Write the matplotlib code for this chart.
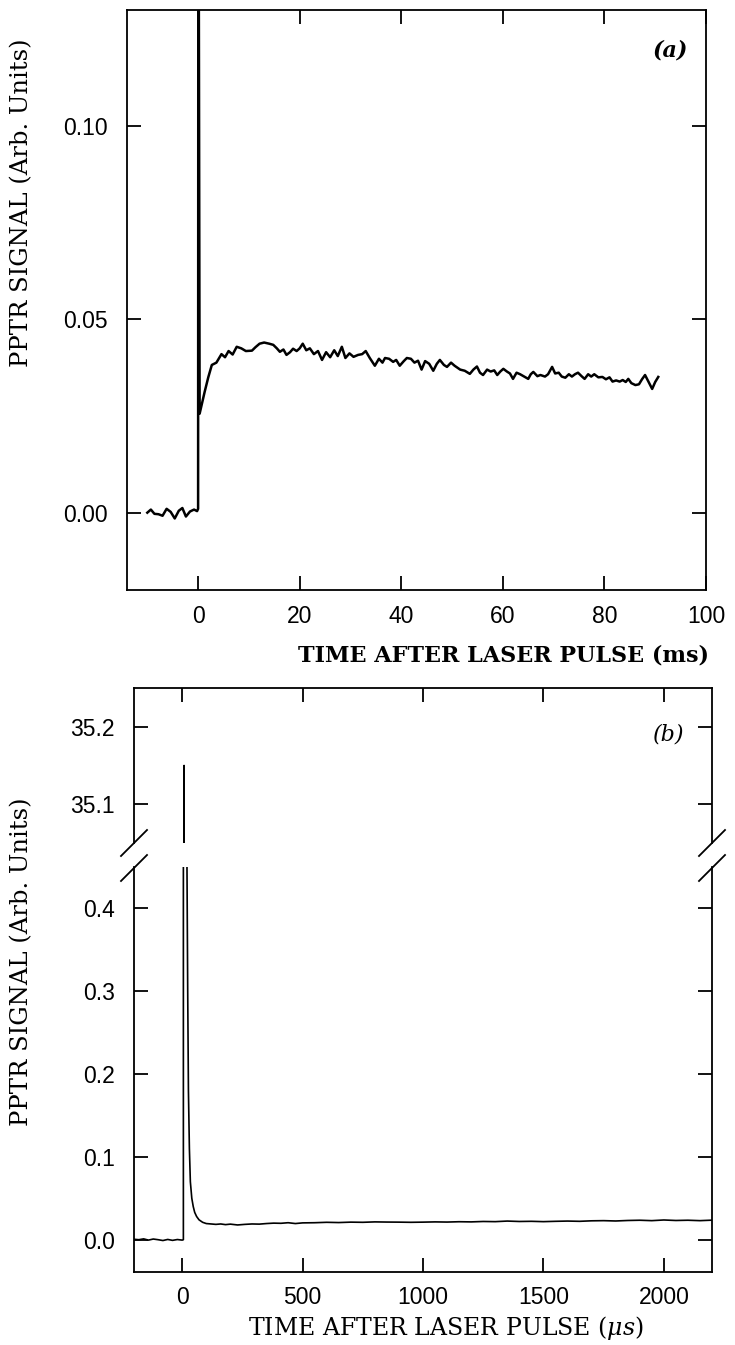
import matplotlib
matplotlib.use("Agg")
import matplotlib.pyplot as plt
from matplotlib.lines import Line2D

plt.rcParams['mathtext.fontset'] = 'dejavuserif'

# ---- panel (a): time in ms, signal ----
t_ms = [-10.0, -9.3, -8.6, -7.8, -7.0, -6.2, -5.4, -4.6, -3.8, -3.1, -2.4, -1.6, -0.8, -0.2, 0.0,
        0.05, 0.3, 1.3, 2.0, 2.7, 3.6, 4.6, 5.3, 6.0, 6.8, 7.6, 8.5, 9.4, 10.6, 11.3, 12.1,
        13.0, 14.0, 14.8, 15.5, 16.1, 16.8, 17.4, 18.1, 18.7, 19.4, 20.0, 20.6, 21.3, 22.0,
        22.8, 23.6, 24.4, 25.2, 26.0, 26.8, 27.5, 28.3, 29.0, 29.8, 30.6, 31.5, 32.3, 33.0,
        33.8, 34.8, 35.6, 36.3, 36.8, 37.6, 38.4, 39.0, 39.7, 40.5, 41.1, 41.9, 42.6, 43.3,
        44.0, 44.7, 45.5, 46.3, 47.0, 47.6, 48.4, 49.0, 49.8, 50.5, 51.6, 52.5, 53.5, 54.2,
        54.9, 55.5, 56.1, 56.9, 57.6, 58.3, 58.9, 59.5, 60.1, 60.8, 61.4, 62.0, 62.7, 63.4,
        64.2, 65.0, 65.5, 66.0, 66.8, 67.4, 68.3, 68.9, 69.7, 70.3, 71.0, 71.6, 72.3, 73.0,
        73.6, 74.2, 74.8, 75.5, 76.1, 76.8, 77.4, 78.0, 78.8, 79.6, 80.3, 81.0, 81.6, 82.3,
        83.0, 83.6, 84.2, 84.7, 85.3, 86.1, 86.8, 87.4, 88.0, 88.7, 89.4, 90.0, 90.6]
sig_a = [0.0000, 0.0008, -0.0003, -0.0004, -0.0008, 0.0010, 0.0002, -0.0015, 0.0005, 0.0012,
         -0.0010, 0.0003, 0.0008, 0.0004, 0.0010,
         0.2000, 0.0256, 0.0313, 0.0350, 0.0382, 0.0388, 0.0410, 0.0402, 0.0418, 0.0409,
         0.0429, 0.0425, 0.0418, 0.0419, 0.0428, 0.0437, 0.0440, 0.0437, 0.0434, 0.0425,
         0.0416, 0.0422, 0.0408, 0.0415, 0.0424, 0.0418, 0.0425, 0.0437, 0.0420, 0.0425,
         0.0410, 0.0418, 0.0395, 0.0415, 0.0402, 0.0420, 0.0405, 0.0429, 0.0400, 0.0412,
         0.0403, 0.0408, 0.0410, 0.0418, 0.0400, 0.0380, 0.0398, 0.0388, 0.0400, 0.0398,
         0.0390, 0.0395, 0.0380, 0.0392, 0.0400, 0.0398, 0.0388, 0.0393, 0.0370, 0.0392,
         0.0385, 0.0367, 0.0385, 0.0395, 0.0382, 0.0377, 0.0388, 0.0380, 0.0370, 0.0367,
         0.0359, 0.0370, 0.0378, 0.0362, 0.0356, 0.0370, 0.0365, 0.0368, 0.0356, 0.0365,
         0.0372, 0.0365, 0.0360, 0.0346, 0.0362, 0.0358, 0.0352, 0.0346, 0.0358, 0.0364,
         0.0353, 0.0356, 0.0352, 0.0358, 0.0377, 0.0360, 0.0362, 0.0352, 0.0349, 0.0358,
         0.0352, 0.0358, 0.0362, 0.0353, 0.0346, 0.0358, 0.0352, 0.0358, 0.0350, 0.0351,
         0.0345, 0.0350, 0.0339, 0.0342, 0.0339, 0.0343, 0.0338, 0.0346, 0.0335, 0.0330,
         0.0332, 0.0345, 0.0356, 0.0338, 0.0320, 0.0338, 0.0351]
xticks_a = [0, 20, 40, 60, 80, 100]
yticks_a = [0.00, 0.05, 0.10]

# ---- panel (b): time in us, signal (broken y axis) ----
t_us = [-200, -180, -160, -140, -120, -100, -80, -60, -40, -20, 0, 5, 8, 20, 23, 26, 30, 34,
        40, 46, 52, 60, 70, 85, 100, 120, 140, 160, 180, 200, 230, 260, 290, 320, 350,
        380, 410, 440, 470, 500, 550, 600, 650, 700, 750, 800, 850, 900, 950, 1000, 1050,
        1100, 1150, 1200, 1250, 1300, 1350, 1400, 1450, 1500, 1550, 1600, 1650, 1700, 1750,
        1800, 1850, 1900, 1950, 2000, 2050, 2100, 2150, 2200]
sig_b = [0.0005, 0.0, 0.001, -0.0005, 0.0008, 0.0, -0.001, 0.0003, -0.0008, 0.0002, -0.0005,
         0.0, 35.15, 0.45, 0.30, 0.18, 0.11, 0.07, 0.050, 0.040, 0.033, 0.028, 0.024,
         0.021, 0.0195, 0.019, 0.0185, 0.019, 0.0182, 0.0188, 0.0178, 0.0185, 0.0190, 0.0188,
         0.0195, 0.0200, 0.0198, 0.0205, 0.0195, 0.0203, 0.0205, 0.0210, 0.0207, 0.0212,
         0.0210, 0.0215, 0.0213, 0.0212, 0.0210, 0.0212, 0.0215, 0.0213, 0.0217, 0.0215,
         0.0220, 0.0218, 0.0225, 0.0220, 0.0222, 0.0218, 0.0222, 0.0225, 0.0222, 0.0228,
         0.0230, 0.0226, 0.0232, 0.0235, 0.0230, 0.0238, 0.0232, 0.0235, 0.0230, 0.0236]
xticks_b = [0, 500, 1000, 1500, 2000]
yticks_b_hi = [35.1, 35.2]
yticks_b_lo = [0.0, 0.1, 0.2, 0.3, 0.4]

W, H = 735, 1345
fig = plt.figure(figsize=(W / 100, H / 100), dpi=100)

SANS = 'Liberation Sans'
SERIF = 'DejaVu Serif'
TICKFS = 16.5


def px_box(x0, y0, x1, y1):
    # pixel box (top-left origin) -> figure fraction rect
    return [x0 / W, 1 - y1 / H, (x1 - x0) / W, (y1 - y0) / H]


def style(ax):
    for s in ax.spines.values():
        s.set_linewidth(1.3)
    ax.tick_params(direction='in', length=10, width=1.3, top=True, right=True,
                   labelsize=TICKFS)
    for lab in ax.get_xticklabels() + ax.get_yticklabels():
        lab.set_family(SANS)


# panel (a)
ax1 = fig.add_axes(px_box(127, 10, 706, 590))
ax1.plot(t_ms, sig_a, color='black', lw=1.8)
ax1.set_xlim(-14, 100)
ax1.set_ylim(-0.02, 0.13)
ax1.set_xticks(xticks_a)
ax1.set_yticks(yticks_a)
ax1.set_yticklabels(['%.2f' % v for v in yticks_a])
style(ax1)
ax1.tick_params(axis='x', pad=11)
ax1.tick_params(axis='y', pad=14)
ax1.text(0.969, 0.931, '(a)', transform=ax1.transAxes, ha='right', va='center',
         family=SERIF, fontsize=16, fontweight='bold', style='italic')
fig.text(503 / W, 1 - 656 / H, 'TIME AFTER LASER PULSE (ms)', ha='center', va='center',
         family=SERIF, fontsize=16, fontweight='bold')
fig.text(22 / W, 1 - 203 / H, 'PPTR SIGNAL (Arb. Units)', ha='center', va='center',
         rotation=90, family=SERIF, fontsize=17.5)

# panel (b), upper part of broken axis
ax2 = fig.add_axes(px_box(134, 688, 712, 843))
ax2.plot(t_us, sig_b, color='black', lw=1.2)
ax2.set_xlim(-200, 2200)
ax2.set_ylim(35.05, 35.25)
ax2.set_xticks(xticks_b)
ax2.set_yticks(yticks_b_hi)
ax2.set_yticklabels(['%.1f' % v for v in yticks_b_hi])
style(ax2)
ax2.tick_params(axis='x', bottom=False, labelbottom=False)
ax2.tick_params(axis='y', pad=14)
ax2.spines['bottom'].set_visible(False)
ax2.text(0.952, 0.7, '(b)', transform=ax2.transAxes, ha='right', va='center',
         family=SERIF, fontsize=16, style='italic')

# panel (b), lower part
ax3 = fig.add_axes(px_box(134, 867, 712, 1272))
ax3.plot(t_us, sig_b, color='black', lw=1.2)
ax3.set_xlim(-200, 2200)
ax3.set_ylim(-0.039, 0.45)
ax3.set_xticks(xticks_b)
ax3.set_yticks(yticks_b_lo)
ax3.set_yticklabels(['%.1f' % v for v in yticks_b_lo])
style(ax3)
ax3.tick_params(axis='x', top=False, pad=10)
ax3.tick_params(axis='y', pad=14)
ax3.spines['top'].set_visible(False)
fig.text(446 / W, 1 - 1328 / H, r'TIME AFTER LASER PULSE ($\mu s$)', ha='center',
         va='center', family=SERIF, fontsize=17)
fig.text(22 / W, 1 - 962 / H, 'PPTR SIGNAL (Arb. Units)', ha='center', va='center',
         rotation=90, family=SERIF, fontsize=17.5)

# break marks on both spines
for xs in (134, 712):
    for ys in (843, 868):
        fig.add_artist(Line2D([(xs - 13) / W, (xs + 13) / W],
                              [1 - (ys + 13) / H, 1 - (ys - 13) / H],
                              transform=fig.transFigure, color='black', lw=1.3))

fig.savefig('out.png', dpi=100)
